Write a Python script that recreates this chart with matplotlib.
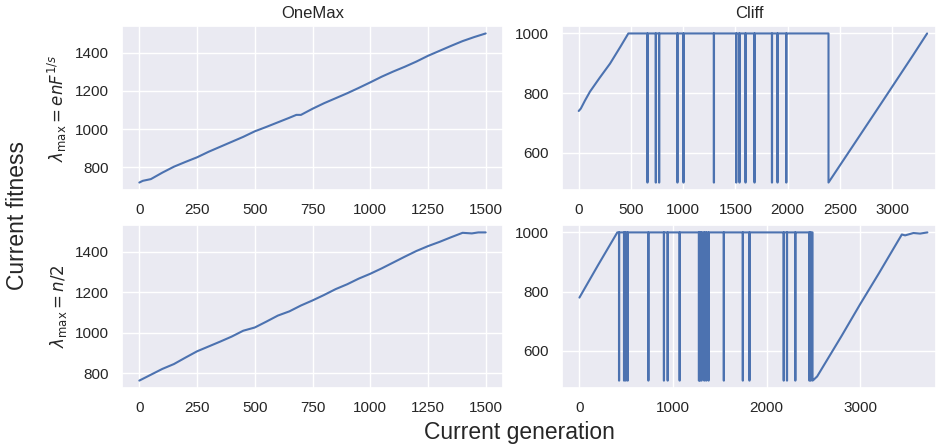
import numpy as np
import matplotlib
matplotlib.use("Agg")
import matplotlib.pyplot as plt
from matplotlib.ticker import MultipleLocator
import seaborn as sns

sns.set_theme(style="darkgrid")
plt.rcParams["font.family"] = ["Liberation Sans", "DejaVu Sans"]

LINE_COLOR = "#4C72B0"

# OneMax, lambda_max = e n F^{1/s}
onemax_top_gens = [0, 15, 50, 100, 150, 200, 250, 300, 350, 400, 450, 500, 550, 600,
                   650, 680, 700, 750, 800, 850, 900, 950, 1000, 1050, 1100, 1150,
                   1200, 1250, 1300, 1350, 1400, 1450, 1500]
onemax_top_fit = [720, 729, 738, 772, 803, 828, 852, 881, 907, 933, 959, 988, 1011, 1035,
                  1059, 1074, 1074, 1106, 1135, 1161, 1187, 1215, 1244, 1274, 1301, 1326,
                  1353, 1383, 1409, 1435, 1460, 1481, 1500]

# OneMax, lambda_max = n/2
onemax_bot_gens = [0, 50, 100, 150, 200, 250, 300, 350, 400, 450, 500, 550, 600, 650,
                   700, 750, 800, 850, 900, 950, 1000, 1050, 1100, 1150, 1200, 1250,
                   1300, 1350, 1400, 1440, 1468, 1500]
onemax_bot_fit = [763, 792, 821, 845, 877, 908, 932, 956, 981, 1010, 1026, 1055, 1085, 1106,
                  1135, 1160, 1187, 1216, 1240, 1268, 1292, 1319, 1348, 1377, 1405, 1429,
                  1450, 1473, 1495, 1492, 1497, 1497]

# Cliff, lambda_max = e n F^{1/s}
cliff_top_climb_gens = [0, 20, 60, 108, 200, 300, 400, 475]
cliff_top_climb_fit = [740, 748, 775, 805, 851, 899, 956, 1000]
cliff_top_drops = [657, 737, 769, 944, 1002, 1293, 1507, 1538, 1596, 1682, 1849, 1902, 1986]
cliff_top_fall = 2391
cliff_top_final_gens = [2391, 2600, 2900, 3200, 3335]
cliff_top_final_fit = [500, 610, 768, 927, 1000]

# Cliff, lambda_max = n/2
cliff_bot_climb_gens = [0, 200, 405]
cliff_bot_climb_fit = [780, 890, 1000]
cliff_bot_drops = [423, 476, 494, 515, 736, 902, 942, 1070, 1276, 1287, 1304, 1333, 1354,
                   1379, 1542, 1745, 1816, 2182, 2217, 2306, 2456, 2470]
cliff_bot_fall = 2491
cliff_bot_final_gens = [2491, 2500, 2540, 2800, 3000, 3200, 3445, 3480, 3569, 3640, 3718]
cliff_bot_final_fit = [500, 502, 514, 650, 758, 862, 993, 990, 998, 996, 1000]

CLIFF_TOP = 1000
CLIFF_BOTTOM = 500


def cliff_trace(climb_g, climb_f, drops, fall, final_g, final_f):
    """Assemble the Cliff trajectory: climb, plateau with short falls, final climb."""
    xs = list(climb_g)
    ys = list(climb_f)
    for g in drops:
        xs += [g, g, g + 2, g + 2]
        ys += [CLIFF_TOP, CLIFF_BOTTOM, CLIFF_BOTTOM, CLIFF_TOP]
    xs += [fall]
    ys += [CLIFF_TOP]
    xs += list(final_g)
    ys += list(final_f)
    return np.array(xs), np.array(ys)


fig = plt.figure(figsize=(9.36, 4.47), dpi=100)
W, H = 936.0, 447.0
aw_left = 381 / W
aw_right = (936 - 562) / W
ax_tl = fig.add_axes([122 / W, (H - 190) / H, aw_left, 164 / H])
ax_tr = fig.add_axes([562 / W, (H - 190) / H, aw_right, 164 / H])
ax_bl = fig.add_axes([122 / W, (H - 388) / H, aw_left, 163 / H])
ax_br = fig.add_axes([562 / W, (H - 388) / H, aw_right, 163 / H])

lw = 1.5
ax_tl.plot(onemax_top_gens, onemax_top_fit, color=LINE_COLOR, lw=lw)
ax_bl.plot(onemax_bot_gens, onemax_bot_fit, color=LINE_COLOR, lw=lw)

x, y = cliff_trace(cliff_top_climb_gens, cliff_top_climb_fit, cliff_top_drops,
                   cliff_top_fall, cliff_top_final_gens, cliff_top_final_fit)
ax_tr.plot(x, y, color=LINE_COLOR, lw=lw)
x, y = cliff_trace(cliff_bot_climb_gens, cliff_bot_climb_fit, cliff_bot_drops,
                   cliff_bot_fall, cliff_bot_final_gens, cliff_bot_final_fit)
ax_br.plot(x, y, color=LINE_COLOR, lw=lw)

# right-hand panels run past the right edge of the canvas
ax_tr.set_xlim(-160, 3420)
ax_br.set_xlim(-186, 3810)

for ax in (ax_tl, ax_bl):
    ax.xaxis.set_major_locator(MultipleLocator(250))
    ax.yaxis.set_major_locator(MultipleLocator(200))
ax_tr.xaxis.set_major_locator(MultipleLocator(500))
ax_br.xaxis.set_major_locator(MultipleLocator(1000))
for ax in (ax_tr, ax_br):
    ax.yaxis.set_major_locator(MultipleLocator(200))

for ax in (ax_tl, ax_tr, ax_bl, ax_br):
    ax.tick_params(labelsize=11)

ax_tl.set_title("OneMax", fontsize=12)
ax_tr.set_title("Cliff", fontsize=12)
ax_tl.set_ylabel(r"$\lambda_{\max} = enF^{1/s}$", fontsize=12)
ax_bl.set_ylabel(r"$\lambda_{\max} = n/2$", fontsize=12)

fig.text(519 / W, (H - 433) / H, "Current generation", fontsize=16.5, ha="center", va="center")
fig.text(18 / W, (H - 215) / H, "Current fitness", fontsize=16.5, ha="center", va="center",
         rotation=90)

fig.savefig("out.png", dpi=100)
